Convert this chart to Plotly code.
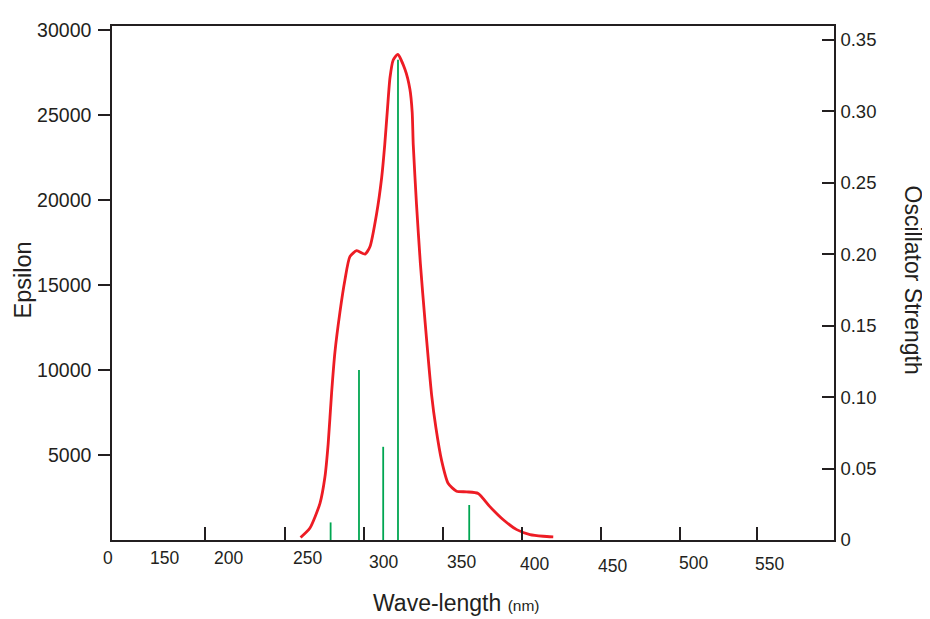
import plotly.graph_objects as go

# ---- data ----
curve_nm = [246.4, 252.5, 259.0, 262.2, 264.3, 266.6, 268.7, 271.9, 275.2, 278.4,
            282.8, 288.2, 291.4, 295.7, 299.0, 301.0, 302.8, 304.4, 306.5, 309.4,
            314.1, 317.3, 318.8, 319.5, 321.6, 324.1, 327.2, 331.4, 334.2, 337.9,
            342.2, 347.6, 354.1, 361.6, 369.2, 377.9, 386.6, 395.2, 403.8, 410.3]
curve_eps = [150, 708, 2158, 3701, 5638, 8730, 11050, 13370, 15302, 16659,
             17007, 16810, 17239, 19170, 21299, 23231, 25377, 27175, 28219, 28550,
             27680, 26520, 25160, 23231, 19751, 16271, 12790, 8538, 6601, 4669,
             3318, 2871, 2831, 2738, 1961, 1189, 609, 319, 220, 186]

stick_nm = [265.9, 284.3, 300.0, 309.6, 355.8]
stick_f = [0.0123, 0.119, 0.0652, 0.336, 0.0245]

x_tick_marks = [184.5, 236.3, 287.5, 338.7, 390.0, 441.2, 492.5, 542.5]
x_label_text = ["150", "200", "250", "300", "350", "400", "450", "500", "550"]
x_label_at = [158.4, 199.5, 250.7, 300.5, 350.9, 398.4, 448.6, 501.1, 550.4]

eps_ticks = [5000, 10000, 15000, 20000, 25000, 30000]
eps_text = ["5000", "10000", "15000", "20000", "25000", "30000"]
osc_ticks = [0, 0.05, 0.10, 0.15, 0.20, 0.25, 0.30, 0.35]
osc_text = ["0", "0.05", "0.10", "0.15", "0.20", "0.25", "0.30", "0.35"]

# ---- styling ----
INK = "#231f20"
RED = "#ed1c24"
GREEN = "#00a651"
FONT = "Liberation Sans, Arial, Helvetica, sans-serif"

sx, sy = [], []
for x, f in zip(stick_nm, stick_f):
    sx += [x, x, None]
    sy += [0, f, None]

fig = go.Figure()
fig.add_trace(go.Scatter(x=sx, y=sy, mode="lines", yaxis="y2",
                         line=dict(color=GREEN, width=1.8), hoverinfo="skip",
                         showlegend=False))
fig.add_trace(go.Scatter(x=curve_nm, y=curve_eps, mode="lines",
                         line=dict(color=RED, width=2.8, shape="spline", smoothing=0.6),
                         showlegend=False))

# x tick labels (offset from the tick marks as in the original)
label_drop = [18, 18, 18, 22, 22, 23.5, 25.5, 22.5, 23.5]
annotations = [dict(x=(108.3 - 112) / 722, y=0, xref="paper", yref="paper", text="0",
                    showarrow=False, xanchor="center", yanchor="middle", yshift=-18,
                    font=dict(family=FONT, size=17.5, color=INK))]
for t, x, d in zip(x_label_text, x_label_at, label_drop):
    annotations.append(dict(x=x, y=0, xref="x", yref="paper", text=t, showarrow=False,
                            xanchor="center", yanchor="middle", yshift=-d,
                            font=dict(family=FONT, size=17.5, color=INK)))

annotations += [
    dict(x=(23 - 112) / 722, y=(540 - 277) / 521, xref="paper", yref="paper",
         xanchor="center", yanchor="middle",
         text="Epsilon", textangle=-90, showarrow=False,
         font=dict(family=FONT, size=23.5, color=INK)),
    dict(x=(913 - 112) / 722, y=(540 - 276) / 521, xref="paper", yref="paper",
         xanchor="center", yanchor="middle",
         text="Oscillator Strength", textangle=90, showarrow=False,
         font=dict(family=FONT, size=23, color=INK)),
    dict(x=(456 - 112) / 722, y=(540 - 604) / 521, xref="paper", yref="paper",
         xanchor="center", yanchor="middle",
         text="Wave-length <span style='font-size:15.5px'>(nm)</span>", showarrow=False,
         font=dict(family=FONT, size=23, color=INK)),
]

# the page adds an 8px body margin, so the figure is 8px smaller and margins shifted
fig.update_layout(
    width=922, height=611, autosize=False,
    margin=dict(l=104, r=96, t=11, b=79, pad=0),
    paper_bgcolor="white", plot_bgcolor="white",
    font=dict(family=FONT, color=INK),
    xaxis=dict(range=[124.1, 592.4], tickvals=x_tick_marks, showticklabels=False,
               ticks="inside", ticklen=13, tickwidth=1.5, tickcolor=INK,
               showline=True, linecolor=INK, linewidth=1.5, mirror=True,
               showgrid=False, zeroline=False),
    yaxis=dict(range=[0, 30220], tickvals=eps_ticks, ticktext=eps_text,
               ticks="outside", ticklen=12,
               tickwidth=1.5, tickcolor=INK, showline=True, linecolor=INK, linewidth=1.5,
               showgrid=False, zeroline=False, tickfont=dict(size=19.5, color=INK),
               ticklabelstandoff=3),
    yaxis2=dict(range=[0, 0.3596], overlaying="y", side="right", tickvals=osc_ticks,
                ticktext=osc_text, ticks="inside", ticklen=12, tickwidth=1.5,
                tickcolor=INK, showline=True, linecolor=INK, linewidth=1.5,
                showgrid=False, zeroline=False, tickfont=dict(size=18.5, color=INK),
                ticklabelstandoff=1),
    annotations=annotations,
)

fig.write_html("out.html")
